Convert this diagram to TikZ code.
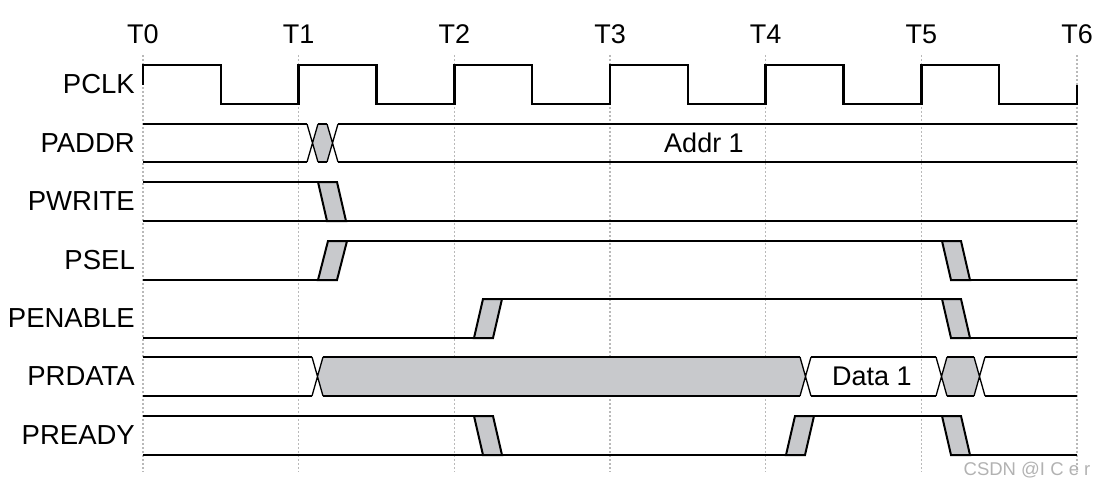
\documentclass[tikz,border=0pt]{standalone}
\usepackage{fontspec}
\setmainfont{Liberation Sans}
\definecolor{relleno}{RGB}{200,201,204}

\begin{document}
\begin{tikzpicture}[x=1pt,y=-1pt,
  sig/.style={line width=2.4pt},
  cruce/.style={line width=1.3pt},
  flanco/.style={draw,fill=relleno,line width=2pt},
  rejilla/.style={gray!55,line width=1.6pt,dash pattern=on 1.6pt off 2.4pt},
  senal/.style={anchor=east,inner sep=0pt,font=\fontsize{27.5}{30}\selectfont},
  texto/.style={inner sep=0pt,font=\fontsize{27}{30}\selectfont}]
  \useasboundingbox (0,0) rectangle (1104,487);
  % tiempos y rejilla
  \foreach \i in {0,...,6}{
    \node[texto] (t\i) at ({143+155.67*\i},34) {T\i};
    \draw[rejilla] ({143+155.67*\i},55) -- ({143+155.67*\i},472);
  }
  % nombres
  \node[senal] (pclk) at (135,84.5) {PCLK};
  \node[senal] (paddr) at (135,143) {PADDR};
  \node[senal] (pwrite) at (135,201.5) {PWRITE};
  \node[senal] (psel) at (135,260.5) {PSEL};
  \node[senal] (penable) at (135,318.5) {PENABLE};
  \node[senal] (prdata) at (135,376.5) {PRDATA};
  \node[senal] (pready) at (135,435.5) {PREADY};
  % reloj
  \draw[sig] (143,85) -- (143,65)
    \foreach \i in {1,...,5}{ -- ++(77.83,0) -- ++(0,39) -- ++(77.83,0) -- ++(0,-39)}
    -- ++(77.83,0) -- ++(0,39) -- ++(77.83,0) -- ++(0,-19);
  % PADDR
  \fill[relleno] (312.5,143) -- (318,124) -- (327,124) -- (332.5,143) -- (327,162) -- (318,162) -- cycle;
  \foreach \y in {124,162}
    \draw[sig] (143,\y) -- (307,\y) (318,\y) -- (327,\y) (338,\y) -- (1077,\y);
  \foreach \x in {307,327}
    \draw[cruce] (\x,124) -- ++(11,38) (\x,162) -- ++(11,-38);
  \node[texto] (addr) at (704,143) {Addr 1};
  % PWRITE
  \draw[sig] (143,182) -- (318,182);
  \draw[sig] (143,221) -- (1077,221);
  \draw[flanco] (318,182) -- (337,182) -- (346,221) -- (327,221) -- cycle;
  % PSEL
  \draw[sig] (143,280) -- (318,280);
  \draw[flanco] (318,280) -- (337,280) -- (347,241) -- (328,241) -- cycle;
  \draw[sig] (347,241) -- (942,241);
  \draw[flanco] (942,241) -- (961,241) -- (970,280) -- (951,280) -- cycle;
  \draw[sig] (970,280) -- (1077,280);
  % PENABLE
  \draw[sig] (143,338) -- (474,338);
  \draw[flanco] (474,338) -- (493,338) -- (502,299) -- (483,299) -- cycle;
  \draw[sig] (502,299) -- (942,299);
  \draw[flanco] (942,299) -- (961,299) -- (970,338) -- (951,338) -- cycle;
  \draw[sig] (970,338) -- (1077,338);
  % PRDATA
  \fill[relleno] (317.5,376.5) -- (323,357) -- (800,357) -- (805.5,376.5) -- (800,396) -- (323,396) -- cycle;
  \fill[relleno] (941.5,376.5) -- (947,357) -- (974,357) -- (979.5,376.5) -- (974,396) -- (947,396) -- cycle;
  \foreach \y in {357,396}
    \draw[sig] (143,\y) -- (312,\y) (323,\y) -- (800,\y) (811,\y) -- (936,\y)
      (947,\y) -- (974,\y) (985,\y) -- (1077,\y);
  \foreach \x in {312,800,936,974}
    \draw[cruce] (\x,357) -- ++(11,39) (\x,396) -- ++(11,-39);
  \node[texto] (data) at (872,376.5) {Data 1};
  % PREADY
  \draw[sig] (143,416) -- (474,416);
  \draw[sig] (143,455) -- (786,455);
  \draw[flanco] (474,416) -- (493,416) -- (502,455) -- (483,455) -- cycle;
  \draw[flanco] (786,455) -- (805,455) -- (814,416) -- (795,416) -- cycle;
  \draw[sig] (814,416) -- (942,416);
  \draw[flanco] (942,416) -- (961,416) -- (970,455) -- (951,455) -- cycle;
  \draw[sig] (970,455) -- (1077,455);
  % marca
  \node[inner sep=0pt,gray!60,font=\fontsize{18.5}{20}\selectfont] (csdn) at (1027,470.5) {CSDN @I C e r};
\end{tikzpicture}
\end{document}
